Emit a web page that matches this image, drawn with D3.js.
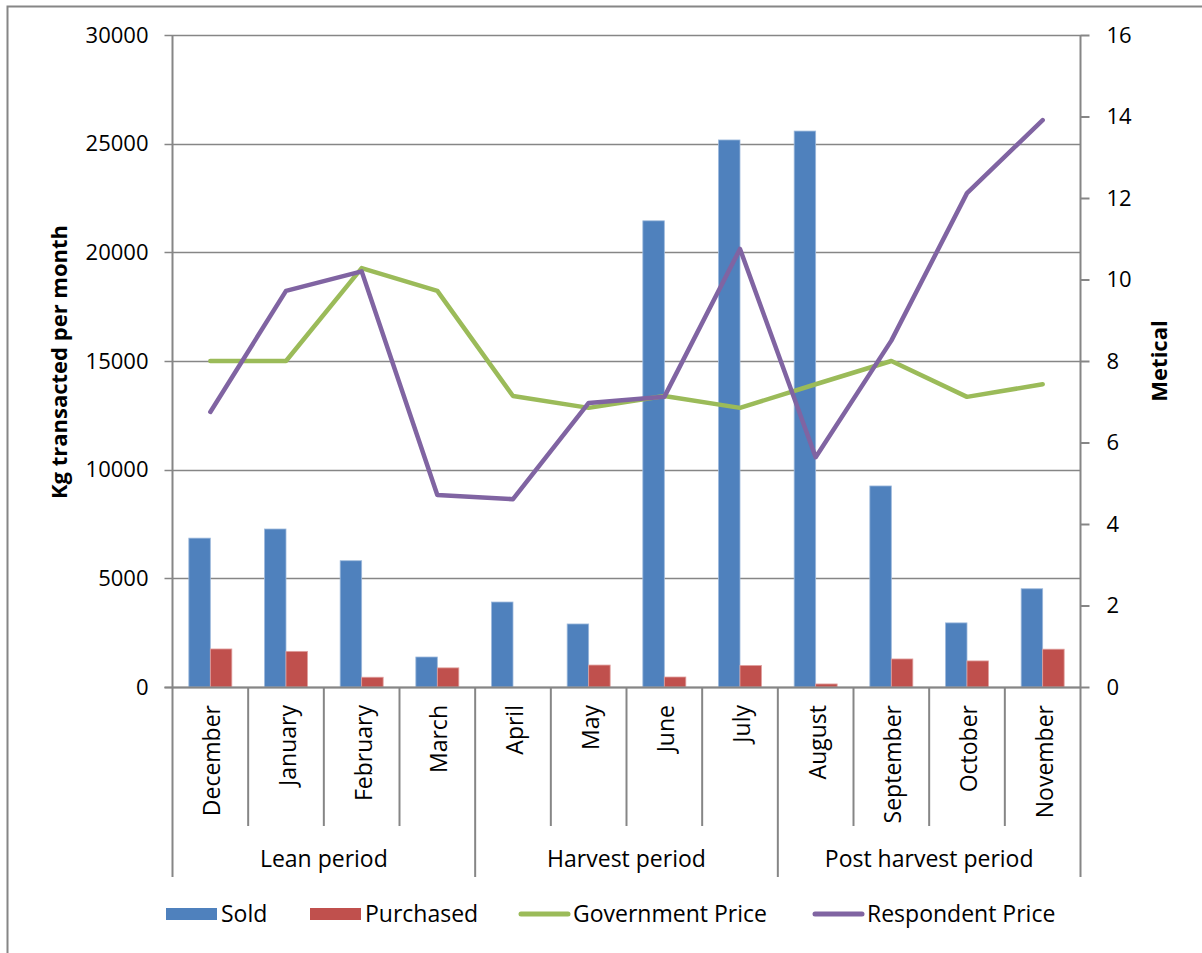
<!DOCTYPE html>
<html><head><meta charset="utf-8">
<script src="https://cdn.jsdelivr.net/npm/d3@7"></script>
<style>body{margin:0;background:#fff}svg{display:block}text{font-family:"Open Sans",sans-serif;fill:#000}</style>
</head><body>
<svg id="c" width="1202" height="953"></svg>
<script>
const months = ["December","January","February","March","April","May","June","July","August","September","October","November"];
const periods = ["Lean period","Harvest period","Post harvest period"];
const sold = [6850,7270,5810,1380,3910,2900,21450,25170,25580,9250,2950,4520];
const purchased = [1750,1640,450,880,0,1010,460,990,140,1290,1200,1740];
const govPrice = [8.0,8.0,10.28,9.72,7.14,6.85,7.14,6.85,7.43,8.0,7.12,7.43];
const respPrice = [6.75,9.72,10.2,4.71,4.61,6.97,7.12,10.75,5.64,8.5,12.12,13.91];
const leftTicks = [0,5000,10000,15000,20000,25000,30000];
const rightTicks = [0,2,4,6,8,10,12,14,16];

const svg = d3.select("#c");
const L=172.5, R=1080.5, T=35, B=687;
const grey="#868686";
svg.append("rect").attr("x",7.5).attr("y",6.5).attr("width",1220).attr("height",960).attr("fill","none").attr("stroke",grey).attr("stroke-width",2);

const x = d3.scaleBand().domain(months).range([L,R]).paddingInner(0).paddingOuter(0);
const yL = d3.scaleLinear().domain([0,30000]).range([B,T]);
const yR = d3.scaleLinear().domain([0,16]).range([B,T]);
const xs = d3.scaleBand().domain(["s","p"]).range([0,x.bandwidth()]).paddingInner(0).paddingOuter(0.76);

// gridlines
svg.append("g").selectAll("line").data(leftTicks).join("line")
  .attr("x1",L-8).attr("x2",R).attr("y1",d=>Math.round(yL(d))+0.5).attr("y2",d=>Math.round(yL(d))+0.5)
  .attr("stroke",grey).attr("stroke-width",1.5);

// left axis
const gl = svg.append("g").attr("transform",`translate(${L},0)`)
  .call(d3.axisLeft(yL).tickValues(leftTicks).tickSize(0).tickPadding(24).tickFormat(d3.format("d")));
gl.select(".domain").remove();
gl.selectAll("text").style("font-size","22px").style("font-family","Open Sans");
svg.append("line").attr("x1",L).attr("x2",L).attr("y1",T).attr("y2",877).attr("stroke",grey).attr("stroke-width",2);

// right axis
const gr = svg.append("g").attr("transform",`translate(${R},0)`)
  .call(d3.axisRight(yR).tickValues(rightTicks).tickSize(9).tickPadding(17));
gr.select(".domain").remove();
gr.selectAll("line").attr("stroke",grey).attr("stroke-width",2);
gr.selectAll("text").style("font-size","22px").style("font-family","Open Sans");
svg.append("line").attr("x1",R).attr("x2",R).attr("y1",T).attr("y2",877).attr("stroke",grey).attr("stroke-width",2);

// bars
const gb = svg.append("g");
gb.selectAll("rect.s").data(sold).join("rect").attr("class","s")
  .attr("x",(d,i)=>x(months[i])+xs("s")).attr("width",xs.bandwidth())
  .attr("y",d=>yL(d)).attr("height",d=>B-yL(d))
  .attr("fill","#4F81BD").attr("stroke","#9db9dc").attr("stroke-width",0.8);
gb.selectAll("rect.p").data(purchased).join("rect").attr("class","p")
  .attr("x",(d,i)=>x(months[i])+xs("p")).attr("width",xs.bandwidth())
  .attr("y",d=>yL(d)).attr("height",d=>B-yL(d))
  .attr("fill","#C0504D").attr("stroke","#e0a09e").attr("stroke-width",0.8);

// category axis
svg.append("line").attr("x1",L-8).attr("x2",R).attr("y1",B+0.5).attr("y2",B+0.5).attr("stroke",grey).attr("stroke-width",2);
const sep = months.map((m,i)=>i).filter(i=>i>0);
svg.append("g").selectAll("line").data(sep).join("line")
  .attr("x1",i=>x(months[i])).attr("x2",i=>x(months[i]))
  .attr("y1",B).attr("y2",i=>i%4===0?877:826)
  .attr("stroke",grey).attr("stroke-width",2);
svg.append("g").selectAll("text").data(months).join("text")
  .attr("transform",d=>`translate(${x(d)+x.bandwidth()/2+10},705) rotate(-90)`)
  .attr("text-anchor","end").style("font-size","23px").text(d=>d);
svg.append("g").selectAll("text").data(periods).join("text")
  .attr("x",(d,i)=>(x(months[i*4])+ (i*4+4<12?x(months[i*4+4]):R))/2).attr("y",867)
  .attr("text-anchor","middle").style("font-size","23px").text(d=>d);

// lines
const lineG = d3.line().x((d,i)=>x(months[i])+x.bandwidth()/2).y(d=>yR(d));
svg.append("path").datum(govPrice).attr("d",lineG).attr("fill","none").attr("stroke","#9BBB59").attr("stroke-width",4.5).attr("stroke-linejoin","round").attr("stroke-linecap","round");
svg.append("path").datum(respPrice).attr("d",lineG).attr("fill","none").attr("stroke","#8064A2").attr("stroke-width",4.5).attr("stroke-linejoin","round").attr("stroke-linecap","round");

// axis titles
svg.append("text").attr("transform","translate(67,362) rotate(-90)").attr("text-anchor","middle")
  .style("font-size","22px").style("font-weight","bold").text("Kg transacted per month");
svg.append("text").attr("transform","translate(1167,361) rotate(-90)").attr("text-anchor","middle")
  .style("font-size","22px").style("font-weight","bold").text("Metical");

// legend
const legend = [
  {name:"Sold",color:"#4F81BD",type:"rect",x:166,tx:221},
  {name:"Purchased",color:"#C0504D",type:"rect",x:310,tx:365},
  {name:"Government Price",color:"#9BBB59",type:"line",x:518,tx:573},
  {name:"Respondent Price",color:"#8064A2",type:"line",x:812,tx:867}
];
const lg = svg.append("g");
legend.forEach(l=>{
  if(l.type==="rect") lg.append("rect").attr("x",l.x).attr("y",908).attr("width",51).attr("height",12).attr("fill",l.color);
  else lg.append("line").attr("x1",l.x+3).attr("x2",l.x+50).attr("y1",914).attr("y2",914).attr("stroke",l.color).attr("stroke-width",5).attr("stroke-linecap","round");
  lg.append("text").attr("x",l.tx).attr("y",922).style("font-size","23px").text(l.name);
});
</script>
</body></html>
